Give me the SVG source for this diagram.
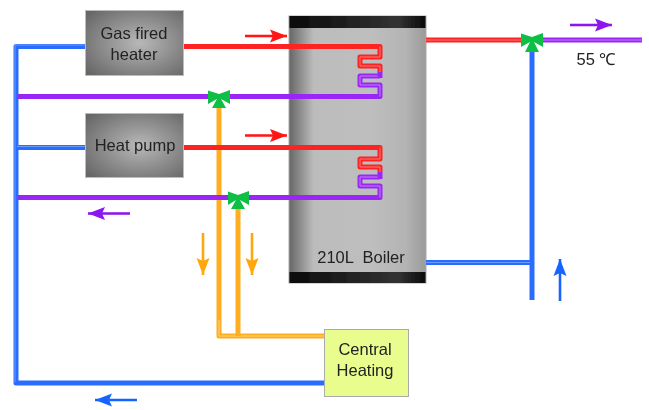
<svg xmlns="http://www.w3.org/2000/svg" width="649" height="410" viewBox="0 0 649 410">
<style>
text{font-family:"Liberation Sans",Arial,sans-serif;font-size:16.5px;fill:#222;text-anchor:middle}
.p{fill:none;stroke-linejoin:round;stroke-linecap:butt}
.o{stroke-width:5}.i{stroke-width:1}
.blue{stroke:#2a6cff}.blueI{stroke:#6a9bff}
.red{stroke:#ff2020}.redI{stroke:#ff7a7a}
.pur{stroke:#9a28f5}.purI{stroke:#bf7cfa}
.org{stroke:#ffae20}.orgI{stroke:#ffd27a}
.arr{fill:none;stroke-width:2.6}
.valve{fill:#0dbf45}
.unit{stroke:#bdbdbd;stroke-width:1;fill:url(#box)}
</style>
<defs>
<radialGradient id="box" cx="0.55" cy="0.5" r="0.7"><stop offset="0" stop-color="#b8b8b8"/><stop offset="1" stop-color="#666"/></radialGradient>
<linearGradient id="tank"><stop offset="0" stop-color="#666"/><stop offset="0.18" stop-color="#bcbcbc"/><stop offset="0.6" stop-color="#bebebe"/><stop offset="0.85" stop-color="#b4b4b4"/><stop offset="1" stop-color="#9a9a9a"/></linearGradient>
<linearGradient id="cap"><stop offset="0" stop-color="#0a0a0a"/><stop offset="0.8" stop-color="#333"/><stop offset="1" stop-color="#0a0a0a"/></linearGradient>
<filter id="soft" filterUnits="userSpaceOnUse" x="0" y="0" width="649" height="410"><feGaussianBlur stdDeviation="0.45"/></filter>
<marker id="hR" markerUnits="userSpaceOnUse" markerWidth="18" markerHeight="14" refX="17" refY="7" orient="auto"><path d="M0 0.500L17 7L0 13.500L3 7Z" fill="#ff1414"/></marker>
<marker id="hP" markerUnits="userSpaceOnUse" markerWidth="18" markerHeight="14" refX="17" refY="7" orient="auto"><path d="M0 0.500L17 7L0 13.500L3 7Z" fill="#8a14f0"/></marker>
<marker id="hO" markerUnits="userSpaceOnUse" markerWidth="18" markerHeight="14" refX="17" refY="7" orient="auto"><path d="M0 0.500L17 7L0 13.500L3 7Z" fill="#ffa810"/></marker>
<marker id="hB" markerUnits="userSpaceOnUse" markerWidth="18" markerHeight="14" refX="17" refY="7" orient="auto"><path d="M0 0.500L17 7L0 13.500L3 7Z" fill="#1464ff"/></marker>
</defs>
<rect width="649" height="410" fill="#fff"/>
<g filter="url(#soft)">
<g id="boiler">
<rect x="289" y="16" width="137" height="267" fill="url(#tank)" stroke="#aaa"/>
<rect x="289.500" y="16" width="136" height="12" fill="url(#cap)"/>
<rect x="289.500" y="272" width="136" height="11" fill="url(#cap)"/>
<text x="361" y="263" xml:space="preserve">210L  Boiler</text>
</g>
<g id="connectors">
<g class="p">
<path class="o blue" d="M86 46.500H16V383H324"/><path class="i blueI" d="M86 45H15V382"/>
<path class="o blue" d="M17 147.500H86"/><path class="i blueI" d="M17 146.500H86"/>
<path class="o blue" d="M532 50V300"/>
<path class="o blue" d="M426 262.500H532"/><path class="i blueI" d="M426 262.500H530"/>
<path class="o org" d="M324 336H219V108"/><path class="i orgI" d="M324 336H219V320"/>
<path class="o org" d="M238 336V205"/>
<path class="o pur" d="M18 96.500H380V85H360V76H380"/><path class="i purI" d="M380 96.500V85H360V76H380"/>
<path class="o pur" d="M18 197.500H380V186H360V177H380"/><path class="i purI" d="M380 197.500V186H360V177H380"/>
<path class="o pur" d="M380 72V78"/><path class="o pur" d="M380 172V179"/>
<path class="o red" d="M183 46.500H380V57H360V66H380V72"/><path class="i redI" d="M380 46.500V57H360V66H380V72"/>
<path class="o red" d="M183 147.500H380V159H360V167H380V172"/><path class="i redI" d="M380 147.500V159H360V167H380V172"/>
<path class="o red" d="M426 40H522"/><path class="i redI" d="M426 40H522"/>
<path class="o pur" d="M543 40H642"/><path class="i purI" d="M543 40H642"/>
</g>
<path class="arr" stroke="#ff1414" marker-end="url(#hR)" d="M245 36H287"/>
<path class="arr" stroke="#ff1414" marker-end="url(#hR)" d="M245 135.500H287"/>
<path class="arr" stroke="#8a14f0" marker-end="url(#hP)" d="M570 25H612"/>
<path class="arr" stroke="#8a14f0" marker-end="url(#hP)" d="M130 213.500H88"/>
<path class="arr" stroke="#ffa810" marker-end="url(#hO)" d="M203 233V275"/>
<path class="arr" stroke="#ffa810" marker-end="url(#hO)" d="M252 233V275"/>
<path class="arr" stroke="#1464ff" marker-end="url(#hB)" d="M137 400H95"/>
<path class="arr" stroke="#1464ff" marker-end="url(#hB)" d="M560 301V259"/>
</g>
<g id="valve-1"><path class="valve" d="M208 90.500L219 94L230 90V104L221 99L226 108H212L217 99L208 104Z"/></g>
<g id="valve-2"><path class="valve" d="M228 191.500L238 195L249 191V205L240 200L245 209H231L236 200L228 205Z"/></g>
<g id="valve-3"><path class="valve" d="M521 33.500L532 37L543 33V47L534 42L539 52H525L530 42L521 47Z"/></g>
<g id="gas-heater"><rect class="unit" x="85.500" y="10.500" width="98" height="65"/><text x="134" y="39">Gas fired</text><text x="134" y="60">heater</text></g>
<g id="heat-pump"><rect class="unit" x="85.500" y="113.500" width="98" height="64"/><text x="135" y="151">Heat pump</text></g>
<g id="central-heating"><rect x="324.500" y="329.500" width="84" height="67" fill="#e9fd8e" stroke="#aaa"/><text x="365" y="355">Central</text><text x="365" y="376">Heating</text></g>
<text id="temp" x="596" y="65">55 ℃</text>
</g>
</svg>
